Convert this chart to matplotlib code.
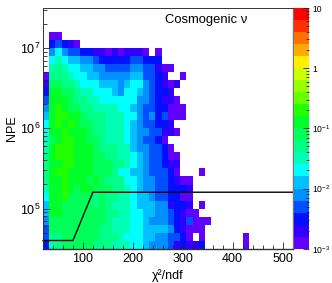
#!/usr/bin/env python3
import numpy as np
import matplotlib
matplotlib.use("Agg")
import matplotlib.pyplot as plt
from matplotlib.colors import ListedColormap, BoundaryNorm
from matplotlib.ticker import FixedLocator, FixedFormatter, NullFormatter

plt.rcParams['font.family'] = ['Liberation Sans', 'DejaVu Sans']
plt.rcParams['mathtext.default'] = 'regular'
plt.rcParams['mathtext.fontset'] = 'custom'
plt.rcParams['mathtext.rm'] = 'Liberation Sans'

# histogram binning: 40 bins in chi2/ndf, 30 log bins in NPE
X_EDGES = np.linspace(20, 520, 41)
Y_EDGES = np.logspace(4.5, 7.5, 31)

# colour band of each cell, top row first (-1 = empty bin)
CELLS = [
    [],
    [],
    [],
    [-1, 0, 0],
    [-1, 2, 3, 2, 1, 0],
    [-1, 4, 6, 4, 3, 3, 2, 2, 1, 1, 0, 1, 0, 1, 1, 1, 0, -1, 0],
    [-1, 6, 7, 6, 5, 5, 4, 4, 3, 2, 2, 2, 2, 2, 3, 3, 2, 2, 2],
    [-1, 7, 8, 7, 6, 6, 5, 5, 4, 4, 3, 3, 3, 3, 4, 4, 3, 3, 1, 0, 0],
    [0, 8, 8, 8, 7, 6, 6, 5, 5, 4, 4, 4, 4, 4, 5, 5, 3, 3, 2, 1, -1, -1, 0],
    [1, 9, 9, 8, 8, 7, 6, 6, 6, 5, 5, 5, 4, 5, 6, 6, 4, 3, 2, 1, 0, 1],
    [2, 10, 10, 9, 9, 8, 7, 7, 6, 6, 6, 5, 4, 6, 6, 5, 4, 3, 2, 2, 1],
    [3, 10, 10, 10, 9, 8, 8, 7, 7, 6, 6, 6, 6, 6, 6, 4, 4, 3, 2, 1, 1, 0],
    [4, 10, 11, 10, 9, 9, 8, 8, 7, 7, 7, 7, 6, 6, 5, 4, 3, 3, 2, 2, 0, 0, 0],
    [5, 10, 11, 11, 10, 10, 9, 8, 8, 8, 7, 7, 7, 6, 6, 4, 3, 4, 2, 3, 0, 0, 0],
    [6, 10, 11, 10, 11, 10, 9, 9, 8, 8, 7, 7, 7, 6, 5, 4, 3, 3, 2, 2, 1],
    [6, 10, 10, 11, 10, 10, 10, 9, 8, 8, 7, 7, 7, 6, 5, 4, 4, 3, 3, 1, 1, 0],
    [7, 9, 10, 11, 11, 10, 10, 9, 9, 8, 7, 7, 7, 6, 5, 4, 3, 3, 2, 0],
    [7, 10, 11, 11, 11, 10, 10, 10, 9, 8, 8, 8, 7, 7, 5, 4, 4, 3, 3, 2, 0],
    [8, 10, 11, 11, 11, 10, 10, 10, 9, 9, 8, 8, 7, 7, 6, 5, 4, 3, 3, 2, 0, 0],
    [8, 10, 10, 11, 11, 10, 10, 10, 9, 9, 9, 8, 8, 7, 6, 5, 4, 3, 3, 2, 1, 1],
    [8, 10, 11, 11, 10, 10, 10, 10, 9, 9, 9, 8, 6, 6, 5, 5, 4, 3, 3, 3, 2, 0, -1, -1, -1, 0],
    [8, 10, 10, 11, 10, 10, 10, 9, 10, 9, 8, 8, 8, 6, 6, 5, 4, 4, 3, 3, 2, 1, 0, 0],
    [7, 10, 10, 11, 10, 9, 10, 10, 9, 9, 9, 8, 8, 7, 6, 5, 4, 4, 3, 3, 2, 2, 2, 1],
    [6, 10, 10, 11, 9, 9, 9, 9, 8, 9, 8, 8, 7, 7, 6, 5, 5, 4, 3, 3, 2, 2, 0, 0],
    [5, 10, 10, 9, 9, 9, 9, 9, 8, 9, 8, 7, 7, 7, 6, 5, 5, 5, 4, 4, 1, 2, 2, 1, -1, 0],
    [5, 10, 10, 9, 9, 9, 9, 9, 9, 9, 8, 8, 7, 7, 6, 6, 5, 5, 4, 4, 3, 2, 1, 0, 0],
    [4, 9, 9, 9, 9, 9, 9, 9, 9, 9, 8, 7, 7, 7, 6, 6, 5, 4, 4, 4, 3, 2, 1, 3, 0, 0, 0],
    [3, 9, 9, 9, 9, 9, 9, 9, 9, 8, 8, 7, 7, 7, 6, 6, 5, 5, 5, 5, 4, 2, 1, 0, 0, 0],
    [3, 8, 8, 9, 9, 9, 9, 9, 9, 8, 8, 8, 7, 6, 6, 6, 5, 5, 4, 4, 3, 3, 2, 0, -1, 0,
     -1, -1, -1, -1, -1, -1, 0],
    [2, 7, 8, 9, 9, 9, 9, 9, 8, 8, 8, 7, 7, 7, 6, 6, 5, 4, 4, 4, 3, 1, 2, 1, 1, 2,
     -1, -1, -1, -1, -1, -1, 0],
]

# the black cut line
CUT_X = [20, 80, 120, 520]
CUT_Y = [4e4, 4e4, 1.6e5, 1.6e5]

# palette, one colour per band from 1e-3 up to 10
PALETTE = ["#6000ff", "#3000ff", "#0010ff", "#0050ff", "#0090ff",
           "#00c0ff", "#00ffff", "#00ffb4", "#00ff88", "#00ff58",
           "#00ff28", "#22ff00", "#66ff00", "#99ff00", "#ccff00",
           "#ffee00", "#ffaa00", "#ff7000", "#ff3000", "#ff0000"]
LEVELS = np.logspace(-3, 1, 21)

X_TICKS = [100, 200, 300, 400, 500]
X_MINOR = [v for v in range(40, 520, 20) if v % 100]
Y_TICKS = [1e5, 1e6, 1e7]
Y_LABELS = [r"$10^{5}$", r"$10^{6}$", r"$10^{7}$"]
Z_TICKS = [1e-3, 1e-2, 1e-1, 1, 10]
Z_LABELS = [r"$10^{-3}$", r"$10^{-2}$", r"$10^{-1}$", "1", "10"]

W, H = 332, 283
FRAME = "#333333"


def load_grid():
    grid = np.full((30, 40), np.nan)
    for i, row in enumerate(CELLS):
        for j, band in enumerate(row):
            if band >= 0:
                # middle of the band on the log colour scale
                grid[29 - i, j] = np.sqrt(LEVELS[band] * LEVELS[band + 1])
    return grid


def main():
    fig = plt.figure(figsize=(W / 100, H / 100), dpi=100)
    ax = fig.add_axes([43 / W, (H - 248.7) / H, 249.5 / W, 240.7 / H])
    cmap = ListedColormap(PALETTE)
    norm = BoundaryNorm(LEVELS, cmap.N)

    ax.pcolormesh(X_EDGES, Y_EDGES, load_grid(), cmap=cmap, norm=norm)
    ax.plot(CUT_X, CUT_Y, color="black", lw=1.0, clip_on=False, solid_joinstyle="miter")

    ax.set_xlim(20, 520)
    ax.set_yscale("log")
    ax.set_ylim(10**4.5, 10**7.5)
    ax.set_xticks(X_TICKS)
    ax.set_xticks(X_MINOR, minor=True)
    ax.yaxis.set_major_locator(FixedLocator(Y_TICKS))
    ax.yaxis.set_major_formatter(FixedFormatter(Y_LABELS))
    ax.yaxis.set_minor_locator(FixedLocator(
        [m * 10**e for e in range(4, 8) for m in range(2, 10)]))
    ax.yaxis.set_minor_formatter(NullFormatter())

    ax.tick_params(axis="both", which="major", direction="in", length=5,
                   width=0.6, labelsize=9, color="#222222")
    ax.tick_params(axis="both", which="minor", direction="in", length=2.6,
                   width=0.6, color="#222222")
    ax.tick_params(axis="x", which="major", pad=3)
    ax.tick_params(axis="y", which="major", pad=2)
    for s in ax.spines.values():
        s.set_linewidth(0.7)
        s.set_color(FRAME)
    ax.spines["bottom"].set_linewidth(1.0)
    ax.spines["right"].set_color("#777777")
    ax.spines["right"].set_linewidth(1.0)

    ax.set_xlabel("χ²/ndf", fontsize=9, labelpad=3)
    ax.set_ylabel("NPE", fontsize=9, labelpad=1)
    fig.text(165 / W, (H - 20.5) / H, "Cosmogenic ν", fontsize=9.4, va="center", ha="left")

    # colour bar, ROOT style: ticks inside on the right edge
    cax = fig.add_axes([294 / W, (H - 248.7) / H, 15 / W, 240.7 / H])
    cax.pcolormesh([0, 1], LEVELS, np.sqrt(LEVELS[:-1] * LEVELS[1:]).reshape(-1, 1),
                   cmap=cmap, norm=norm)
    cax.set_yscale("log")
    cax.set_ylim(1e-3, 10)
    cax.set_xlim(0, 1)
    cax.set_xticks([])
    cax.yaxis.tick_right()
    cax.yaxis.set_major_locator(FixedLocator(Z_TICKS))
    cax.yaxis.set_major_formatter(FixedFormatter(Z_LABELS))
    cax.yaxis.set_minor_locator(FixedLocator(
        [m * 10.0**e for e in range(-3, 1) for m in range(2, 10)]))
    cax.yaxis.set_minor_formatter(NullFormatter())
    cax.tick_params(axis="y", which="major", direction="in", length=4.5, width=0.6,
                    labelsize=6.2, pad=2.5, color="#222222")
    cax.tick_params(axis="y", which="minor", direction="in", length=2.4, width=0.6,
                    color="#222222")
    for s in cax.spines.values():
        s.set_visible(False)

    fig.savefig("out.png", dpi=100)


if __name__ == "__main__":
    main()
